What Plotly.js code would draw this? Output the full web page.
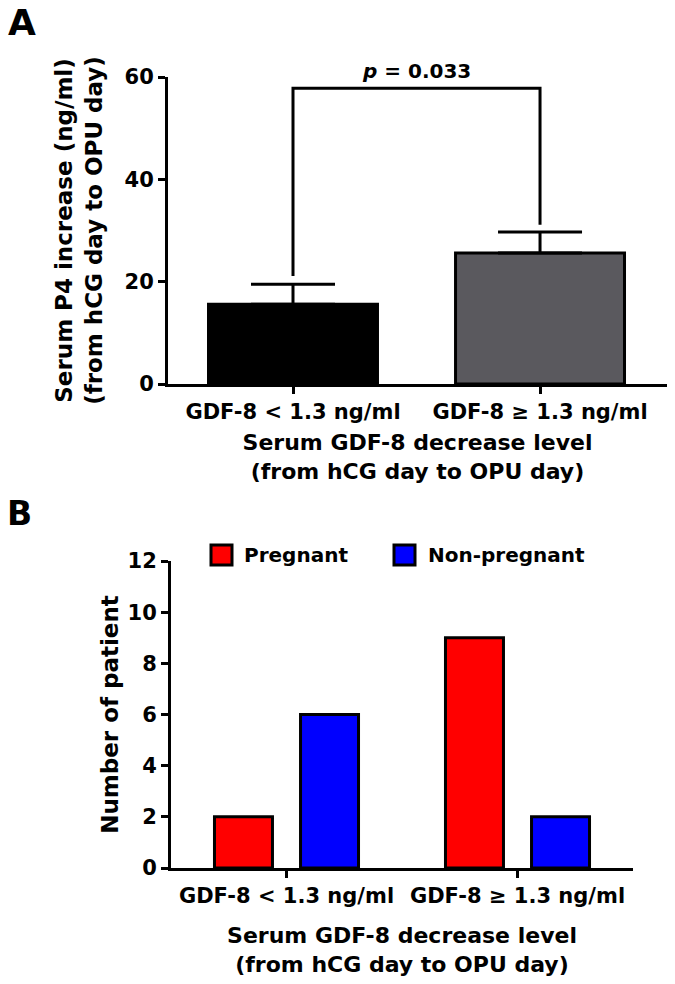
<!DOCTYPE html>
<html>
<head>
<meta charset="utf-8">
<script src="https://cdn.plot.ly/plotly-3.0.1.min.js"></script>
<style>html,body{margin:0;padding:0;background:#fff;}#chart{width:675px;height:984px;}</style>
</head>
<body>
<div id="chart"></div>
<script>
// ---- Panel A data ----
var groupsA = ["GDF-8 < 1.3 ng/ml", "GDF-8 \u2265 1.3 ng/ml"];
var p4Mean = [15.6, 25.6];
var p4Err = [3.9, 4.1];
var p4ErrMinus = [0, 0];
var barColorsA = ["#000000", "#5a595e"];
var bracketX = [groupsA[0], groupsA[0], groupsA[1], groupsA[1]];
var bracketY = [21.1, 57.8, 57.8, 31.1];
var pLabel = "<i>p</i> = 0.033";

// ---- Panel B data ----
var groupsB = ["GDF-8 < 1.3 ng/ml", "GDF-8 \u2265 1.3 ng/ml"];
var pregnant = [2, 9];
var nonPregnant = [6, 2];
var seriesNames = ["Pregnant", "Non-pregnant"];
var seriesColors = ["#ff0000", "#0000ff"];

var FONT = "DejaVu Sans, Liberation Sans, Arial, sans-serif";
function f(size, extra) {
  var o = {family: FONT, size: size, color: "#000", weight: "bold"};
  if (extra) for (var k in extra) o[k] = extra[k];
  return o;
}

var traces = [
  {
    type: "bar", x: groupsA, y: p4Mean, xaxis: "x", yaxis: "y",
    width: 0.684, offset: -0.342,
    marker: {color: barColorsA, line: {color: "#000", width: 3}},
    error_y: {type: "data", symmetric: false, array: p4Err, arrayminus: p4ErrMinus,
              color: "#000", thickness: 3, width: 42},
    showlegend: false, hoverinfo: "skip"
  },
  {
    type: "scatter", mode: "lines", x: bracketX, y: bracketY, xaxis: "x", yaxis: "y",
    line: {color: "#000", width: 3}, showlegend: false, hoverinfo: "skip"
  },
  {
    type: "bar", name: seriesNames[0], x: groupsB, y: pregnant, xaxis: "x2", yaxis: "y2",
    marker: {color: seriesColors[0], line: {color: "#000", width: 3}}, showlegend: false
  },
  {
    type: "bar", name: seriesNames[1], x: groupsB, y: nonPregnant, xaxis: "x2", yaxis: "y2",
    marker: {color: seriesColors[1], line: {color: "#000", width: 3}}, showlegend: false
  }
];

var axisCommon = {
  showline: true, linewidth: 3, linecolor: "#000",
  ticks: "outside", ticklen: 7, tickwidth: 3, tickcolor: "#000",
  showgrid: false, zeroline: false, automargin: false,
  tickfont: f(21)
};
function ax(extra) { var o = {}; for (var k in axisCommon) o[k] = axisCommon[k]; for (var j in extra) o[j] = extra[j]; return o; }

var W = 675, H = 984;
var layout = {
  width: W, height: H,
  margin: {l: 0, r: 0, t: 0, b: 0, pad: 0},
  paper_bgcolor: "#fff", plot_bgcolor: "#fff",
  showlegend: false,
  barmode: "group", bargap: 0.255, bargroupgap: 0.326,
  xaxis: ax({domain: [168/W, 667/W], anchor: "y", type: "category", range: [-0.506, 1.514],
    title: {text: "Serum GDF-8 decrease level<br>(from hCG day to OPU day)", font: f(22), standoff: 12}}),
  yaxis: ax({domain: [1 - 384/H, 1 - 77/H], anchor: "x", range: [0, 60], tickvals: [0, 20, 40, 60],
    title: {text: "Serum P4 increase (ng/ml)<br>(from hCG day to OPU day)", font: f(23), standoff: 16}}),
  xaxis2: ax({domain: [171/W, 633/W], anchor: "y2", type: "category", range: [-0.5, 1.5],
    title: {text: "Serum GDF-8 decrease level<br>(from hCG day to OPU day)", font: f(22), standoff: 21}}),
  yaxis2: ax({domain: [1 - 868/H, 1 - 561/H], anchor: "x2", range: [0, 12], tickvals: [0, 2, 4, 6, 8, 10, 12],
    title: {text: "Number of patient", font: f(23), standoff: 3}}),
  annotations: [
    {xref: "x", yref: "y", x: 0.5, y: bracketY[1], text: "<b>" + pLabel + "</b>", showarrow: false,
     xanchor: "center", yanchor: "bottom", yshift: 3, font: f(20)},
    {xref: "paper", yref: "paper", x: 6/W, y: 1 - 0/H, text: "A", showarrow: false,
     xanchor: "left", yanchor: "top", font: f(36)},
    {xref: "paper", yref: "paper", x: 5/W, y: 1 - 492/H, text: "B", showarrow: false,
     xanchor: "left", yanchor: "top", font: f(33)},
    {xref: "paper", yref: "paper", x: 242/W, y: 1 - 555/H, text: seriesNames[0], showarrow: false,
     xanchor: "left", yanchor: "middle", font: f(20)},
    {xref: "paper", yref: "paper", x: 426/W, y: 1 - 555/H, text: seriesNames[1], showarrow: false,
     xanchor: "left", yanchor: "middle", font: f(20)}
  ],
  shapes: [
    {type: "rect", xref: "paper", yref: "paper", x0: 211/W, x1: 232/W, y0: 1 - 565/H, y1: 1 - 545/H,
     fillcolor: seriesColors[0], line: {color: "#000", width: 3}},
    {type: "rect", xref: "paper", yref: "paper", x0: 394/W, x1: 415/W, y0: 1 - 565/H, y1: 1 - 545/H,
     fillcolor: seriesColors[1], line: {color: "#000", width: 3}}
  ]
};

Plotly.newPlot("chart", traces, layout, {displayModeBar: false, staticPlot: true});
</script>
</body>
</html>
